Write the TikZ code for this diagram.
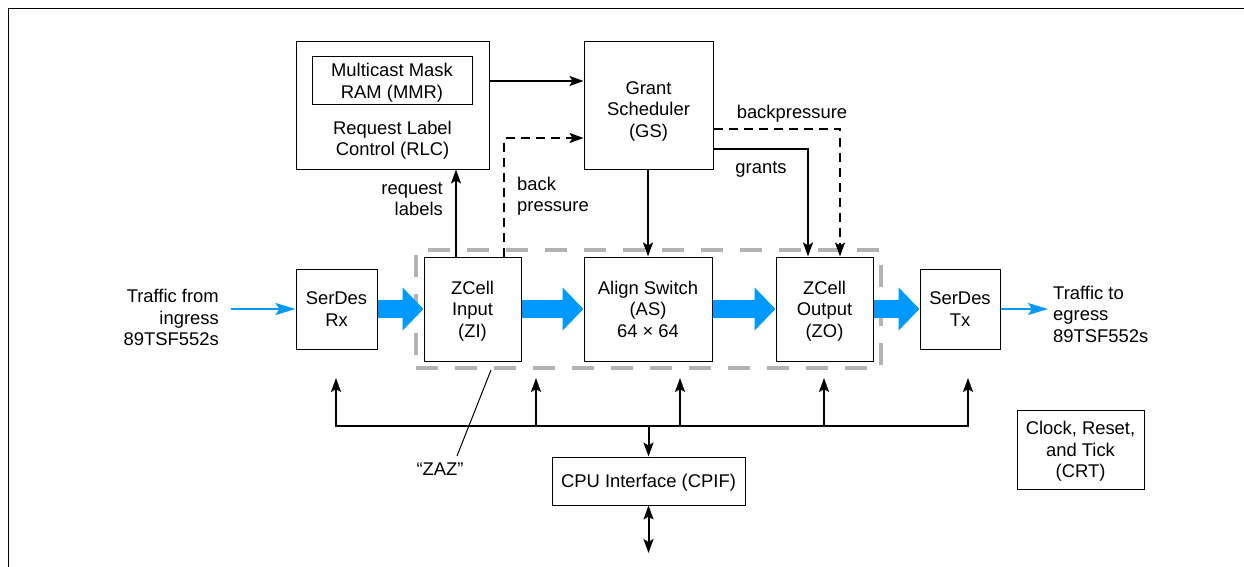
\documentclass[tikz,border=0pt]{standalone}
\usepackage{fontspec}
\setmainfont{Liberation Sans}
\usepackage{tikz}
\usetikzlibrary{arrows.meta,positioning}
\definecolor{flow}{HTML}{0099FF}
\definecolor{zgray}{HTML}{B3B3B3}

\begin{document}
\begin{tikzpicture}[x=1pt, y=-1pt,
  every node/.style={font=\fontsize{18.4}{21.5}\selectfont, inner sep=0pt, align=center},
  box/.style={draw, line width=1pt, text depth=0pt},
  conn/.style={line width=2pt, -{Stealth[length=14pt,width=10pt,inset=3pt]}},
  dconn/.style={line width=2pt, {Stealth[length=14pt,width=10pt,inset=3pt]}-{Stealth[length=14pt,width=10pt,inset=3pt]}},
  bp/.style={conn, dash pattern=on 9pt off 6pt},
  fat/.style={line width=18pt, flow, -{Triangle[length=21pt,width=42pt]}},
  thin/.style={line width=2pt, flow, -{Stealth[length=20pt,width=12pt,inset=4pt]}},
  zazbox/.style={draw=zgray, line width=4pt, dash pattern=on 22pt off 17pt}
]
\useasboundingbox (0,0) rectangle (1244,567);

% -------- Marco --------
\draw[line width=1pt] (8,567) -- (8,9) -- (1244,9);

% -------- Bloques de control --------
\node[box, minimum width=193, minimum height=127] (rlc) at (392.5,105.5) {};
\node[box, minimum width=160, minimum height=48] (mmr) at (392,81) {Multicast Mask\\RAM (MMR)};
\node (rlctext) at (392.5,140) {Request Label\\Control (RLC)};
\node[box, text height=63.5pt, minimum width=129, minimum height=127] (gs) at (648.5,105.5) {Grant\\Scheduler\\(GS)};

% -------- Camino de datos --------
\node[zazbox, minimum width=465, minimum height=118] (zaz) at (648.5,309) {};
\node[box, minimum width=81, minimum height=80] (rx) at (336.5,309) {SerDes\\Rx};
\node[box, minimum width=97, minimum height=104] (zi) at (472.5,309) {ZCell\\Input\\(ZI)};
\node[box, minimum width=128, minimum height=104] (as) at (648,309) {Align Switch\\(AS)\\64 × 64};
\node[box, minimum width=97, minimum height=104] (zo) at (824.5,309) {ZCell\\Output\\(ZO)};
\node[box, minimum width=80, minimum height=80] (tx) at (960,309) {SerDes\\Tx};

\node[anchor=east, align=right] (ingress) at (219,317.5) {Traffic from\\ingress\\89TSF552s};
\node[anchor=west, align=left] (egress) at (1053,314) {Traffic to\\egress\\89TSF552s};
\coordinate (inFree) at (231,309);
\coordinate (outFree) at (1048,309);

% -------- CPU y reloj --------
\node[box, minimum width=193, minimum height=48] (cpif) at (648.5,481) {CPU Interface (CPIF)};
\node[box, minimum width=127, minimum height=79] (crt) at (1080.5,449.5) {Clock, Reset,\\and Tick\\(CRT)};
\node (zazlabel) at (440,469) {“ZAZ”};

% Flechas de datos
\draw[thin] (inFree) -- (rx);
\draw[fat] (rx) -- (zi);
\draw[fat] (zi) -- (as);
\draw[fat] (as) -- (zo);
\draw[fat] (zo) -- (tx);
\draw[thin] (tx) -- (outFree);

% Flechas de control
\coordinate (rq) at (456,200);
\coordinate (bpA) at (504,138);
\coordinate (gr) at (808,149);
\coordinate (bpB) at (840,129);
\draw[conn] (rlc.east |- mmr) -- (gs.west |- mmr);
\draw[conn] (zi.north -| rq) -- (rlc.south -| rq);
\draw[bp] (zi.north -| bpA) |- (gs.west |- bpA);
\draw[conn] (gs.south -| as) -- (as.north);
\draw[conn] (gs.east |- gr) -| (zo.north -| gr);
\draw[bp] (gs.east |- bpB) -| (zo.north -| bpB);

\node[anchor=east, align=right] (rqlabel) at (443,199) {request\\labels};
\node[anchor=west, align=left] (bplabel) at (517,196) {back\\pressure};
\node (bp2label) at (792,113.5) {backpressure};
\node (grlabel) at (761,169) {grants};

% Bus de CPU
\coordinate (busW) at (336,426);
\coordinate (busE) at (968,426);
\draw[line width=2pt, line cap=rect] (busW) -- (busE);
\foreach \x in {336,536,680,824,968} {
  \coordinate (up\x) at (\x,378);
  \draw[conn] (up\x |- busW) -- (up\x);
}
\draw[conn] (busW -| cpif) -- (cpif.north);
\coordinate (cpuOut) at (648.5,553);
\draw[dconn] (cpif.south) -- (cpuOut);

% Nombre ZAZ
\coordinate (zazPt) at (457,456);
\draw[line width=1pt] (zaz.south -| 491,0) -- (zazPt);

\end{tikzpicture}
\end{document}
